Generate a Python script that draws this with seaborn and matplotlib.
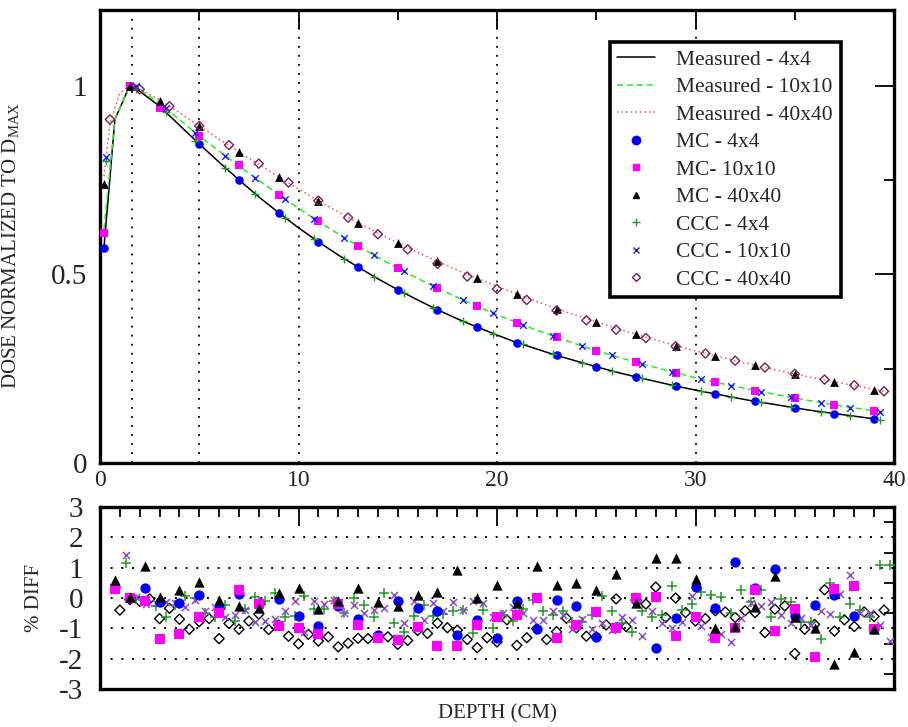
import numpy as np
import pandas as pd
import matplotlib
matplotlib.use('Agg')
import matplotlib.pyplot as plt
import seaborn as sns
from matplotlib.lines import Line2D
from matplotlib.ticker import FixedLocator, NullFormatter

sns.set_theme(style='white')
plt.rcParams['font.family'] = ['Liberation Serif', 'DejaVu Serif']
plt.rcParams['mathtext.fontset'] = 'custom'
plt.rcParams['mathtext.rm'] = 'Liberation Serif'

# ---------------- data : top panel ----------------
meas_depth = [0.2, 0.75, 1.5, 2, 3, 4, 5, 6, 7, 8, 9, 10, 11, 12, 13, 14, 15, 16, 17, 18, 19, 20,
              21, 22, 23, 24, 25, 26, 27, 28, 29, 30, 31, 32, 33, 34, 35, 36, 37, 38, 39]
meas_4x4 = [0.57, 0.91, 1.0, 0.985, 0.945, 0.895, 0.845, 0.797, 0.750, 0.705, 0.663, 0.623, 0.586,
            0.551, 0.519, 0.488, 0.459, 0.432, 0.406, 0.382, 0.360, 0.339, 0.319, 0.302, 0.285,
            0.270, 0.255, 0.241, 0.228, 0.216, 0.204, 0.193, 0.183, 0.173, 0.163, 0.155, 0.146,
            0.138, 0.131, 0.124, 0.117]
meas_10x10 = [0.62, 0.91, 1.0, 0.99, 0.952, 0.910, 0.866, 0.826, 0.787, 0.749, 0.711, 0.675, 0.640,
              0.607, 0.575, 0.545, 0.516, 0.489, 0.463, 0.439, 0.415, 0.393, 0.372, 0.352, 0.333,
              0.315, 0.298, 0.282, 0.267, 0.253, 0.239, 0.226, 0.214, 0.203, 0.192, 0.182, 0.172,
              0.163, 0.154, 0.146, 0.138]
meas40_depth = [0.2, 0.5, 1.0, 1.5, 2, 3, 4, 5, 6, 7, 8, 9, 10, 11, 12, 13, 14, 15, 16, 17, 18, 19, 20,
                21, 22, 23, 24, 25, 26, 27, 28, 29, 30, 31, 32, 33, 34, 35, 36, 37, 38, 39.5]
meas_40x40 = [0.76, 0.90, 0.98, 1.0, 0.99, 0.962, 0.928, 0.893, 0.858, 0.824, 0.791, 0.758, 0.726,
              0.695, 0.665, 0.636, 0.609, 0.583, 0.558, 0.534, 0.511, 0.489, 0.468, 0.448, 0.428,
              0.409, 0.391, 0.374, 0.357, 0.341, 0.326, 0.311, 0.297, 0.284, 0.271, 0.259, 0.247,
              0.236, 0.225, 0.215, 0.205, 0.190]

mc_depth = [0.22, 1.5, 3, 5, 7, 9, 11, 13, 15, 17, 19, 21, 23, 25, 27, 29, 31, 33, 35, 37, 39]
mc_4x4 = [0.57, 1.0, 0.943, 0.844, 0.749, 0.662, 0.586, 0.519, 0.459, 0.406, 0.360, 0.319, 0.285,
          0.255, 0.228, 0.204, 0.183, 0.163, 0.146, 0.131, 0.117]
mc_10x10 = [0.61, 1.0, 0.940, 0.866, 0.790, 0.711, 0.640, 0.575, 0.516, 0.463, 0.415, 0.372, 0.333,
            0.298, 0.267, 0.239, 0.214, 0.192, 0.172, 0.154, 0.138]
mc_40x40 = [0.738, 1.0, 0.960, 0.894, 0.824, 0.758, 0.695, 0.636, 0.583, 0.534, 0.489, 0.448, 0.409,
            0.374, 0.341, 0.311, 0.284, 0.259, 0.236, 0.215, 0.193]

ccc_depth = [0.3, 1.8, 3.3, 4.8, 6.3, 7.8, 9.3, 10.8, 12.3, 13.8, 15.3, 16.8, 18.3, 19.8, 21.3, 22.8,
             24.3, 25.8, 27.3, 28.8, 30.3, 31.8, 33.3, 34.8, 36.3, 37.8, 39.3]
ccc_4x4 = [0.80, 0.99, 0.93, 0.853, 0.782, 0.712, 0.650, 0.593, 0.541, 0.494, 0.450, 0.411, 0.375,
           0.343, 0.314, 0.288, 0.265, 0.243, 0.224, 0.206, 0.190, 0.175, 0.161, 0.148, 0.136,
           0.125, 0.115]
ccc_10x10 = [0.81, 0.999, 0.94, 0.874, 0.814, 0.756, 0.700, 0.647, 0.597, 0.551, 0.508, 0.468, 0.432,
             0.397, 0.366, 0.337, 0.310, 0.285, 0.263, 0.242, 0.222, 0.205, 0.189, 0.174, 0.160,
             0.147, 0.136]
ccc40_depth = [0.5, 2.0, 3.5, 5.0, 6.5, 8.0, 9.5, 11.0, 12.5, 14.0, 15.5, 17.0, 18.5, 20.0, 21.5,
               23.0, 24.5, 26.0, 27.5, 29.0, 30.5, 32.0, 33.5, 35.0, 36.5, 38.0, 39.5]
ccc_40x40 = [0.91, 0.99, 0.945, 0.893, 0.842, 0.793, 0.743, 0.695, 0.650, 0.606, 0.566, 0.528, 0.494,
             0.461, 0.432, 0.404, 0.378, 0.353, 0.331, 0.309, 0.290, 0.271, 0.253, 0.236, 0.221,
             0.206, 0.190]

ref_depths = [1.6, 5, 10, 20, 30]

# ---------------- data : bottom panel (% diff) ----------------
dmc_depth = [0.75, 1.5, 2.25, 3, 4, 5, 6, 7, 8, 9, 10, 11, 12, 13, 14, 15, 16, 17, 18, 19, 20,
             21, 22, 23, 24, 25, 26, 27, 28, 29, 30, 31, 32, 33, 34, 35, 36, 37, 38, 39]
dmc_4x4 = [0.36, 0.0, 0.32, -0.12, -0.18, 0.11, -0.34, 0.13, -0.18, -0.03, -0.59, -0.92, -0.26, -0.68,
           -1.23, -0.09, -0.33, -0.44, -1.22, -0.72, -1.31, -0.09, -1.01, -0.07, -0.26, -1.28, -0.94,
           -0.07, -1.64, -0.67, 0.36, -0.34, 1.19, 0.33, 0.94, -0.59, -0.23, 0.10, -0.59, -1.01]
dmc_10x10 = [0.30, 0.0, -0.09, -1.34, -1.20, -0.64, -0.51, 0.27, -0.20, -0.92, -0.98, -1.20, -0.20,
             -0.89, -1.31, -1.37, -0.94, -1.59, -1.57, -0.89, -0.64, -0.57, 0.0, -1.33, -0.89, -0.46,
             -0.98, -0.01, 0.02, -1.26, -0.61, -1.33, -0.98, 0.27, -1.09, -0.37, -1.96, 0.30, 0.38, -1.01]
dmc_40x40 = [0.58, 0.02, 1.04, 0.04, 0.27, 0.52, -0.07, -0.26, -0.33, 0.16, 0.33, -0.37, -0.09, 0.33,
             -0.12, -0.26, 0.10, 0.21, 0.91, -0.01, 0.43, -0.18, 1.04, 0.44, 0.50, 0.27, 0.78, -0.17,
             1.32, 1.32, 0.63, -0.98, -0.92, -0.29, 0.71, -0.64, -0.98, -2.18, -1.79, -1.01]

dccc_depth = [1.3, 1.8, 2.3, 2.8, 3.3, 3.8, 4.3, 4.8, 5.3, 5.8, 6.3, 6.8, 7.3, 7.8, 8.3, 8.8, 9.3,
              9.8, 10.3, 10.8, 11.3, 11.8, 12.3, 12.8, 13.3, 13.8, 14.3, 14.8, 15.3, 15.8, 16.3, 16.8,
              17.3, 17.8, 18.3, 18.8, 19.3, 19.8, 20.3, 20.8, 21.3, 21.8, 22.3, 22.8, 23.3, 23.8,
              24.3, 24.8, 25.3, 25.8, 26.3, 26.8, 27.3, 27.8, 28.3, 28.8, 29.3, 29.8, 30.3, 30.8,
              31.3, 31.8, 32.3, 32.8, 33.3, 33.8, 34.3, 34.8, 35.3, 35.8, 36.3, 36.8, 37.3, 37.8,
              38.3, 38.8, 39.3, 39.8]
dccc_4x4 = [1.16, -0.03, -0.09, -0.26, -0.62, -0.23, 0.08, -0.01, -0.51, -0.62, -0.23, -0.76, -0.37,
            0.04, -0.11, 0.16, -0.62, -0.59, 0.06, -0.37, -0.37, -0.09, -0.48, -0.01, -0.23, -0.64,
            0.16, -0.84, -1.11, -0.59, -0.22, -0.59, -0.53, -0.42, -0.40, -1.14, -0.40, -1.00, -0.57,
            -0.76, -0.37, -0.06, -0.42, -0.57, -0.42, -0.78, -0.78, -0.56, 0.06, -0.42, -0.81, -1.12,
            -0.44, -0.62, -0.57, 0.41, -0.40, -0.20, 0.21, 0.11, 0.04, -0.51, 0.27, -0.12, 0.26, -0.64,
            -0.03, -0.12, -0.79, -0.79, -1.34, 0.50, -0.62, -0.20, -0.39, -0.62, 1.08, 1.10]
dccc_10x10 = [1.41, 0.02, -0.20, -0.18, -0.14, -0.17, -0.29, -0.07, -0.42, -0.31, -0.61, -0.56, -0.40,
              -0.78, -0.76, -0.70, -0.42, -0.11, -1.11, -0.11, -0.20, -0.07, -0.48, -0.23, -0.50,
              -0.40, -0.33, 0.11, -0.83, -0.11, -0.72, -0.18, -0.42, -0.12, -0.40, -0.11, -0.17,
              -0.61, -0.50, -0.29, -0.51, -0.72, -0.73, -0.42, -0.56, -1.03, -0.68, -1.01, -0.81,
              -1.07, -0.62, -0.73, -1.26, -0.42, -0.81, -0.98, -0.78, 0.06, -0.92, -1.29, -1.20,
              -1.44, -0.67, -0.18, -0.26, -0.12, -0.57, -0.83, -0.67, -0.89, -0.44, -0.53, 0.13, 0.77,
              -0.48, -0.48, -0.89, -1.42]
dccc40_depth = [1.0, 1.5, 2.0, 2.5, 3.0, 3.5, 4.0, 4.5, 5.0, 5.5, 6.0, 6.5, 7.0, 7.5, 8.0, 8.5, 9.0,
                9.5, 10.0, 10.5, 11.0, 11.5, 12.0, 12.5, 13.0, 13.5, 14.0, 14.5, 15.0, 15.5, 16.0,
                16.5, 17.0, 17.5, 18.0, 18.5, 19.0, 19.5, 20.0, 20.5, 21.0, 21.5, 22.0, 22.5, 23.0,
                23.5, 24.0, 24.5, 25.0, 25.5, 26.0, 26.5, 27.0, 27.5, 28.0, 28.5, 29.0, 29.5, 30.0,
                30.5, 31.0, 31.5, 32.0, 32.5, 33.0, 33.5, 34.0, 34.5, 35.0, 35.5, 36.0, 36.5, 37.0,
                37.5, 38.0, 38.5, 39.0, 39.5]
dccc_40x40 = [-0.40, -0.05, -0.11, -0.03, -0.68, -0.34, -0.70, -1.03, -0.78, -0.68, -1.34, -0.84,
              -1.03, -0.76, -0.53, -1.04, -0.89, -1.26, -1.51, -1.20, -1.42, -1.28, -1.61, -1.49,
              -1.33, -1.34, -1.30, -1.28, -1.53, -1.40, -1.07, -1.17, -0.83, -0.98, -1.06, -1.37,
              -1.64, -1.31, -1.45, -0.72, -1.56, -1.31, -1.01, -1.37, -1.11, -0.67, -0.98, -1.26,
              -1.28, -0.89, -0.03, -0.94, -0.07, -0.20, 0.36, -0.64, 0.00, -0.48, -0.76, -0.68, -0.42,
              -0.46, -0.64, -0.42, -0.48, -1.14, -0.37, -0.26, -1.83, -1.03, -0.87, 0.27, -1.09, -0.72,
              -0.94, -0.46, -0.61, -0.40]

diff_grid = [-2, -1, 0, 1, 2]

labels = ['Measured - 4x4', 'Measured - 10x10', 'Measured - 40x40', 'MC - 4x4', 'MC- 10x10',
          'MC - 40x40', 'CCC - 4x4', 'CCC - 10x10', 'CCC - 40x40']

# ---------------- styles ----------------
C_BLUE = '#0000ff'
C_MAG = '#ff00ff'
C_GREEN_L = '#22ee22'
C_RED = '#ff4d4d'
C_GREEN = '#229a22'
C_X_TOP = '#1a1aff'
C_X_BOT = '#8a4ccc'
C_DIA_TOP = '#7a1f5a'

fig = plt.figure(figsize=(9.08, 7.27), dpi=100)
ax1 = fig.add_axes([100 / 908, 1 - 463 / 727, 794 / 908, 453 / 727])
ax2 = fig.add_axes([100 / 908, 1 - 689 / 727, 794 / 908, 182 / 727])

for a in (ax1, ax2):
    a.set_facecolor('white')
    for s in a.spines.values():
        s.set_linewidth(2.4)
        s.set_color('black')

# ---- top panel ----
for xv in ref_depths:
    ax1.axvline(xv, color='black', lw=1.3, ls=(0, (1, 4)), zorder=1)

sns.lineplot(x=meas_depth, y=meas_4x4, ax=ax1, color='black', lw=1.1, estimator=None,
             sort=False, legend=False, zorder=2)
sns.lineplot(x=meas_depth, y=meas_10x10, ax=ax1, color=C_GREEN_L, lw=1.1, linestyle=(0, (4, 2.5)),
             estimator=None, sort=False, legend=False, zorder=2)
sns.lineplot(x=meas40_depth, y=meas_40x40, ax=ax1, color=C_RED, lw=1.1, linestyle=(0, (1, 2)),
             estimator=None, sort=False, legend=False, zorder=2)

sns.scatterplot(x=mc_depth, y=mc_4x4, ax=ax1, marker='o', color=C_BLUE, s=38, linewidth=0,
                zorder=4, legend=False)
sns.scatterplot(x=mc_depth, y=mc_10x10, ax=ax1, marker='s', color=C_MAG, s=30, linewidth=0,
                zorder=4, legend=False)
sns.scatterplot(x=mc_depth, y=mc_40x40, ax=ax1, marker='^', color='black', s=40, linewidth=0,
                zorder=4, legend=False)
sns.scatterplot(x=ccc_depth, y=ccc_4x4, ax=ax1, marker='+', color=C_GREEN, edgecolor=C_GREEN,
                s=40, linewidth=1.0, zorder=4, legend=False)
sns.scatterplot(x=ccc_depth, y=ccc_10x10, ax=ax1, marker='x', color=C_X_TOP, edgecolor=C_X_TOP,
                s=22, linewidth=1.0, zorder=4, legend=False)
sns.scatterplot(x=ccc40_depth, y=ccc_40x40, ax=ax1, marker='D', color='none', edgecolor=C_DIA_TOP,
                s=22, linewidth=1.0, zorder=4, legend=False)

ax1.set_xlim(0, 40)
ax1.set_ylim(0, 1.2)
ax1.xaxis.set_major_locator(FixedLocator([0, 10, 20, 30, 40]))
ax1.xaxis.set_minor_locator(FixedLocator([5, 15, 25, 35]))
ax1.yaxis.set_major_locator(FixedLocator([0, 0.5, 1.0]))
ax1.yaxis.set_minor_locator(FixedLocator([0.25, 0.75]))
ax1.set_xticklabels(['0', '10', '20', '30', '40'])
ax1.set_yticklabels(['0', '0.5', '1'])
ax1.tick_params(axis='both', which='both', direction='in', top=True, right=True, color='black')
ax1.tick_params(axis='both', which='major', length=14, width=1.3)
ax1.tick_params(axis='both', which='minor', length=7, width=1.3)
ax1.tick_params(axis='x', which='major', labelsize=17, pad=5)
ax1.tick_params(axis='y', which='major', labelsize=21, pad=9)
ax1.set_xlabel('')
ax1.set_ylabel(r'DOSE NORMALIZED TO D$_{\mathrm{MAX}}$', fontsize=15)
ax1.yaxis.set_label_coords(-0.098, 0.48)

handles = [
    Line2D([], [], color='black', lw=1.1),
    Line2D([], [], color=C_GREEN_L, lw=1.1, ls=(0, (4, 2.5))),
    Line2D([], [], color=C_RED, lw=1.1, ls=(0, (1, 2))),
    Line2D([], [], color=C_BLUE, marker='o', ls='none', ms=6),
    Line2D([], [], color=C_MAG, marker='s', ls='none', ms=5),
    Line2D([], [], color='black', marker='^', ls='none', ms=5),
    Line2D([], [], color=C_GREEN, marker='+', ls='none', ms=6, mew=1.0),
    Line2D([], [], color=C_X_TOP, marker='x', ls='none', ms=4, mew=1.0),
    Line2D([], [], color=C_DIA_TOP, marker='D', ls='none', ms=4.5, mfc='none', mew=1.0),
]
leg = ax1.legend(handles, labels, loc='upper left', bbox_to_anchor=(0.642, 0.929),
                 fontsize=15.5, frameon=True, fancybox=False, framealpha=1, edgecolor='black',
                 borderpad=0.35, labelspacing=0.345, handlelength=1.75, handletextpad=1.0,
                 borderaxespad=0)
leg.get_frame().set_linewidth(2.6)
leg.set_zorder(10)

# ---- bottom panel ----
for yv in diff_grid:
    ax2.axhline(yv, color='black', lw=1.4, ls=(0, (1, 4.5)), zorder=1)

sns.scatterplot(x=dccc40_depth, y=dccc_40x40, ax=ax2, marker='D', color='none', edgecolor='black',
                s=26, linewidth=1.0, zorder=3, legend=False)
sns.scatterplot(x=dccc_depth, y=dccc_4x4, ax=ax2, marker='+', color=C_GREEN, edgecolor=C_GREEN,
                s=50, linewidth=1.1, zorder=3, legend=False)
sns.scatterplot(x=dccc_depth, y=dccc_10x10, ax=ax2, marker='x', color=C_X_BOT, edgecolor=C_X_BOT,
                s=26, linewidth=1.1, zorder=3, legend=False)
sns.scatterplot(x=dmc_depth, y=dmc_4x4, ax=ax2, marker='o', color=C_BLUE, s=55, linewidth=0,
                zorder=4, legend=False)
sns.scatterplot(x=dmc_depth, y=dmc_10x10, ax=ax2, marker='s', color=C_MAG, s=42, linewidth=0,
                zorder=4, legend=False)
sns.scatterplot(x=dmc_depth, y=dmc_40x40, ax=ax2, marker='^', color='black', s=55, linewidth=0,
                zorder=4, legend=False)

ax2.set_xlim(0, 40)
ax2.set_ylim(-3, 3)
ax2.xaxis.set_major_locator(FixedLocator([10, 20, 30]))
ax2.xaxis.set_minor_locator(FixedLocator([v for v in range(1, 40) if v % 10 != 0]))
ax2.xaxis.set_major_formatter(NullFormatter())
ax2.yaxis.set_major_locator(FixedLocator([-3, -2, -1, 0, 1, 2, 3]))
ax2.yaxis.set_minor_locator(FixedLocator([-2.5, -1.5, -0.5, 0.5, 1.5, 2.5]))
ax2.set_yticklabels(['-3', '-2', '-1', '0', '1', '2', '3'])
ax2.tick_params(axis='both', which='both', direction='in', top=True, right=True, color='black')
ax2.tick_params(axis='x', which='major', length=14, width=1.3)
ax2.tick_params(axis='x', which='minor', length=7, width=1.3)
ax2.tick_params(axis='y', which='major', length=0, labelsize=21, pad=12)
ax2.tick_params(axis='y', which='minor', length=7, width=1.3)
ax2.set_ylabel('% DIFF', fontsize=15)
ax2.yaxis.set_label_coords(-0.07, 0.5)
ax2.set_xlabel('DEPTH (CM)', fontsize=15)
ax2.xaxis.set_label_coords(0.5, -0.085)

fig.savefig('out.png', dpi=100, facecolor='white')
